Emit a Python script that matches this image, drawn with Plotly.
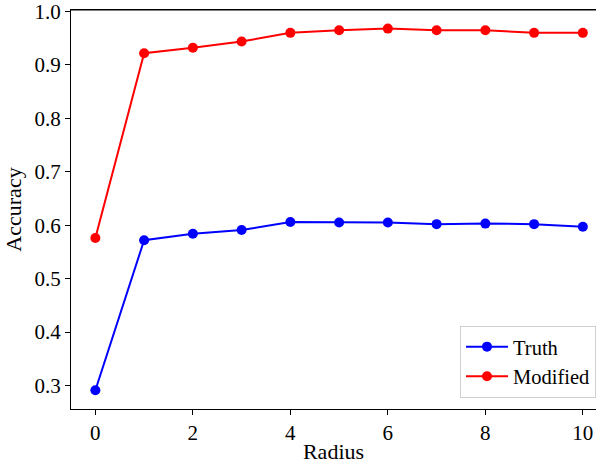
import plotly.graph_objects as go

radius = [0, 1, 2, 3, 4, 5, 6, 7, 8, 9, 10]
truth = [0.291, 0.572, 0.584, 0.591, 0.606, 0.605, 0.605, 0.602, 0.603, 0.602, 0.597]
modified = [0.576, 0.922, 0.932, 0.944, 0.960, 0.965, 0.968, 0.965, 0.965, 0.960, 0.960]
y_ticks = [0.3, 0.4, 0.5, 0.6, 0.7, 0.8, 0.9, 1.0]
x_ticks = [0, 2, 4, 6, 8, 10]

FONT = "Liberation Serif"

fig = go.Figure()
fig.add_trace(go.Scatter(
    x=radius, y=truth, name="Truth", mode="lines+markers",
    line=dict(color="#0000ff", width=2),
    marker=dict(color="#0000ff", size=10),
))
fig.add_trace(go.Scatter(
    x=radius, y=modified, name="Modified", mode="lines+markers",
    line=dict(color="#ff0000", width=2),
    marker=dict(color="#ff0000", size=10),
))

fig.update_layout(
    width=596, height=464,
    margin=dict(l=71, r=0, t=10, b=55),
    paper_bgcolor="white", plot_bgcolor="white",
    font=dict(family=FONT, size=21, color="black"),
    showlegend=True,
    legend=dict(
        x=1.0, xanchor="right", y=0.028, yanchor="bottom",
        bordercolor="#d0d0d0", borderwidth=1, bgcolor="rgba(255,255,255,0.8)",
        font=dict(family=FONT, size=20.5), itemwidth=42,
    ),
)
fig.update_xaxes(
    range=[-0.5, 10.27], tickvals=x_ticks, ticktext=[str(v) for v in x_ticks],
    showgrid=False, zeroline=False, showline=True, linecolor="black", linewidth=1,
    mirror=True, ticks="outside", ticklen=5, tickcolor="black",
    ticklabeloverflow="allow",
    title=dict(text="Radius", standoff=2, font=dict(family=FONT, size=22)),
)
fig.update_yaxes(
    range=[0.256, 1.0028], tickvals=y_ticks, ticktext=[f"{v:.1f}" for v in y_ticks],
    showgrid=False, zeroline=False, showline=True, linecolor="black", linewidth=1,
    ticks="outside", ticklen=5, tickcolor="black",
    ticklabeloverflow="allow",
    title=dict(text="Accuracy", standoff=6, font=dict(family=FONT, size=22)),
)

# top spine of the axes box
fig.add_shape(type="line", xref="paper", yref="paper", x0=0, x1=1, y0=1, y1=1,
              line=dict(color="black", width=1))

fig.write_html("out.html")
